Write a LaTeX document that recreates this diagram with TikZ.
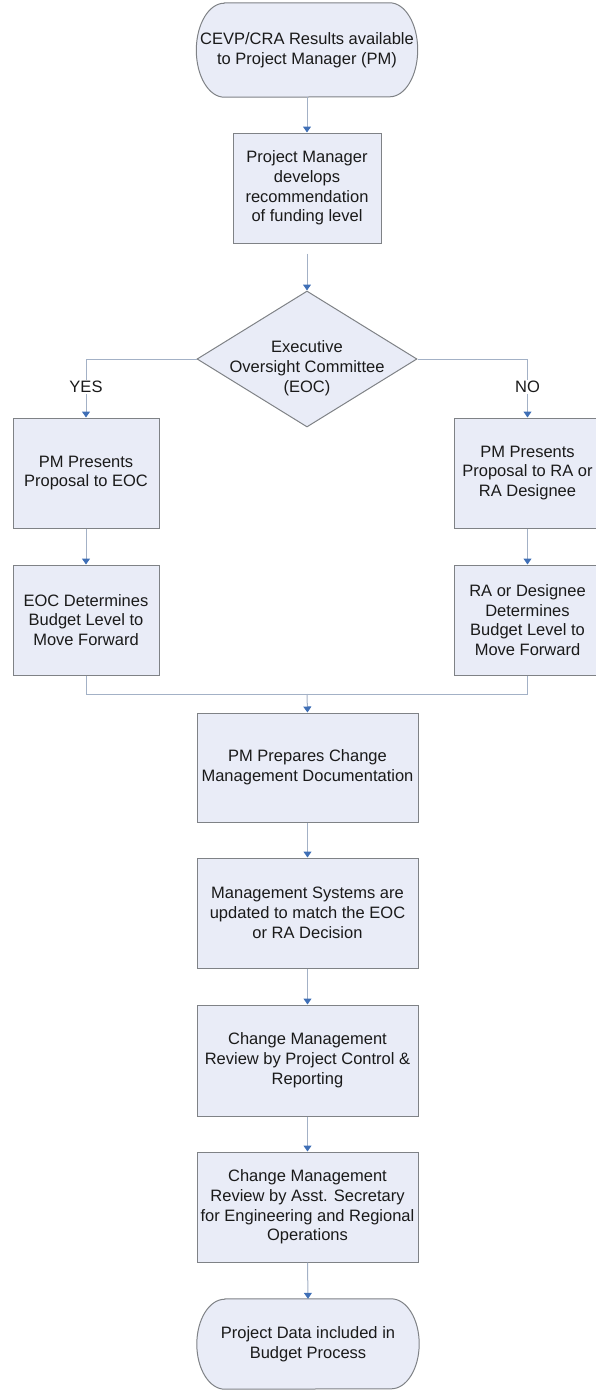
\documentclass[tikz,border=0pt]{standalone}
\usepackage{fontspec}
\setmainfont{Liberation Sans}
\usetikzlibrary{shapes.geometric,arrows.meta,backgrounds}
\definecolor{boxfill}{HTML}{E9ECF7}
\definecolor{boxline}{HTML}{7F8286}
\definecolor{conline}{HTML}{A3B1C6}
\definecolor{tipblue}{HTML}{3F6FB6}
\definecolor{txt}{HTML}{1A1A1A}
\tikzset{
  base/.style={draw=boxline, line width=1pt, fill=boxfill, text=txt, align=center, inner sep=0pt,
    font=\fontsize{16.5}{19.8}\selectfont},
  procbox/.style={base, rectangle, minimum height=110pt},
  termbox/.style={text=txt, align=center, inner sep=0pt, rectangle, font=\fontsize{16.5}{19.8}\selectfont},
  termshape/.style={draw=boxline, line width=1pt, fill=boxfill},
  decbox/.style={base, diamond, minimum width=220pt, minimum height=136pt},
  conn/.style={draw=conline, line width=1pt},
  arr/.style={conn, -{Triangle[width=8pt,length=6pt,color=tipblue,fill=tipblue]}},
  lbl/.style={fill=white, text=txt, inner sep=1pt, font=\fontsize{16.5}{19.8}\selectfont}
}
\begin{document}
\begin{tikzpicture}[x=1pt,y=-1pt]
\useasboundingbox (0,0) rectangle (596,1390);
% nodes
\node[termbox, minimum width=221pt, minimum height=94pt] (t1) at (307,50) {CEVP/CRA Results available\\to Project Manager (PM)};
\node[procbox, minimum width=148pt] (b1) at (307,188) {Project Manager\\develops\\recommendation\\of funding level};
\node[decbox] (eoc) at (307,359) {};
\node[text=txt, align=center, font=\fontsize{16.5}{19.8}\selectfont] (eoct) at (307,368) {Executive\\Oversight Committee\\(EOC)};
\node[procbox, minimum width=146pt] (l1) at (86,473) {PM Presents\\Proposal to EOC};
\node[procbox, minimum width=146pt] (l2) at (86,620) {EOC Determines\\Budget Level to\\Move Forward};
\node[procbox, minimum width=146pt] (r1) at (527.5,473) {PM Presents\\Proposal to RA or\\RA Designee};
\node[procbox, minimum width=146pt] (r2) at (527.5,620) {RA or Designee\\Determines\\Budget Level to\\Move Forward};
\coordinate (m) at (307,694);
\node[procbox, minimum width=221pt, minimum height=109pt] (c1) at (307.5,767.5) {PM Prepares Change\\Management Documentation};
\node[procbox, minimum width=221pt] (c2) at (307.5,913) {Management Systems are\\updated to match the EOC\\or RA Decision};
\node[procbox, minimum width=221pt, minimum height=111pt] (c3) at (307.5,1060.5) {Change Management\\Review by Project Control \&\\Reporting};
\node[procbox, minimum width=221pt] (c4) at (307.5,1207) {Change Management\\Review by Asst. Secretary\\for Engineering and Regional\\Operations};
\node[termbox, minimum width=222pt, minimum height=90pt] (t2) at (308,1344) {Project Data included in\\Budget Process};
% terminator outlines
\begin{scope}[on background layer]
  \draw[termshape] ([xshift=28pt]t1.north west) -- ([xshift=-28pt]t1.north east)
    arc[start angle=90, end angle=-90, x radius=28pt, y radius=47pt]
    -- ([xshift=28pt]t1.south west)
    arc[start angle=270, end angle=90, x radius=28pt, y radius=47pt] -- cycle;
  \draw[termshape] ([xshift=28pt]t2.north west) -- ([xshift=-28pt]t2.north east)
    arc[start angle=90, end angle=-90, x radius=28pt, y radius=45pt]
    -- ([xshift=28pt]t2.south west)
    arc[start angle=270, end angle=90, x radius=28pt, y radius=45pt] -- cycle;
\end{scope}
% connectors
\draw[arr] (t1.south) -- (b1.north);
\draw[arr, shorten <=10pt] (b1.south) -- (eoc.north);
\draw[arr] (eoc.west) -| (l1.north);
\draw[arr] (eoc.east) -| (r1.north);
\node[lbl] (yes) at (86,387) {YES};
\node[lbl] (no) at (527.5,387) {NO};
\draw[arr] (l1.south) -- (l2.north);
\draw[arr] (r1.south) -- (r2.north);
\draw[conn] (l2.south) |- (m);
\draw[conn] (r2.south) |- (m);
\draw[arr] (m) -- (c1.north);
\draw[arr] (c1.south) -- (c2.north);
\draw[arr] (c2.south) -- (c3.north);
\draw[arr] (c3.south) -- (c4.north);
\draw[arr] (c4.south) -- (t2.north);
\end{tikzpicture}
\end{document}
